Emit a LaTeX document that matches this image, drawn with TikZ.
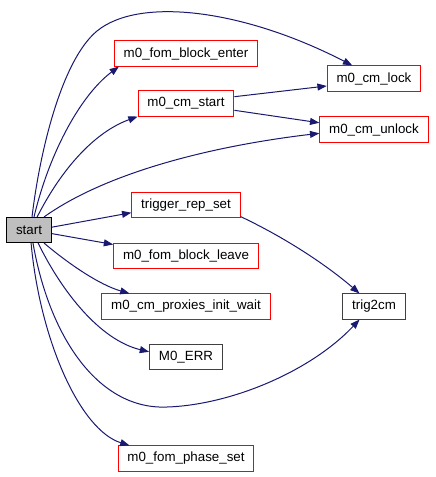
\documentclass[tikz,border=0pt]{standalone}
\usepackage{fontspec}
\setmainfont{Liberation Sans}
\usetikzlibrary{
  arrows.meta,
  positioning,  % relative placement
}
\definecolor{edgeblue}{HTML}{191970}
\definecolor{boxgrey}{HTML}{BFBFBF}
\tikzset{
  font=\fontsize{10}{12}\selectfont,
  >={Triangle[length=7pt,width=5.2pt]},
  my func/.style={
    draw,
    rectangle,
    inner xsep=7pt,
    inner ysep=0pt,
    minimum height=18.8pt,
    line width=0.75pt
  },
  my undoc/.style={
    my func,
    draw=red
  },
  my doc/.style={
    my func,
    draw=black!75
  },
  my root/.style={
    my func,
    draw=black,
    fill=boxgrey
  },
  call/.style={
    ->,
    draw=edgeblue,
    line width=0.75pt
  }
}

\begin{document}
\begin{tikzpicture}[x=0.75pt,y=-0.75pt]
\useasboundingbox (0,0) rectangle (435,477);
% callees of start
\node[my root]  (start)    at (29,230)    {start};
\node[my undoc] (enter)    at (186,53.5)  {m0\_fom\_block\_enter};
\node[my undoc] (cmstart)  at (186,103.5) {m0\_cm\_start};
\node[my undoc] (trigger)  at (186,205)   {trigger\_rep\_set};
\node[my undoc] (leave)    at (186,256)   {m0\_fom\_block\_leave};
\node[my undoc] (proxies)  at (186,306.5) {m0\_cm\_proxies\_init\_wait};
\node[my doc]   (err)      at (186,357)   {M0\_ERR};
\node[my undoc] (phase)    at (186,458.5) {m0\_fom\_phase\_set};
% second column
\node[my undoc] (lock)     at (374,78.5)  {m0\_cm\_lock};
\node[my undoc] (unlock)   at (374,129.5) {m0\_cm\_unlock};
\node[my doc]   (trig2cm)  at (374,306.5) {trig2cm};
% calls
\draw[call] (start.77) .. controls (40,150) and (62,60) .. (97,31)
  .. controls (140,-4) and (245,10) .. (lock.149);
\draw[call] (start.69) .. controls (50,150) and (82,94) .. (enter.191);
\draw[call] (start.58) .. controls (62,168) and (95,132) .. (cmstart.south west);
\draw[call] (start.41) .. controls (110,170) and (220,145) .. (unlock.184);
\draw[call] (start.7) -- (trigger.188);
\draw[call] (start.-9) -- (leave.171);
\draw[call] (start.-41) .. controls (70,265) and (100,285) .. (proxies.167);
\draw[call] (start.-55) .. controls (62,292) and (100,340) .. (err.172);
\draw[call] (start.-73) .. controls (50,340) and (100,410) .. (167,407)
  .. controls (230,405) and (310,372) .. (trig2cm.222);
\draw[call] (start.-81) .. controls (40,340) and (80,430) .. (phase.167);
\draw[call] (cmstart.8) -- (lock.189);
\draw[call] (cmstart.-8) -- (unlock.173);
\draw[call] (trigger.-12) .. controls (290,240) and (330,268) .. (trig2cm.138);
\end{tikzpicture}
\end{document}
